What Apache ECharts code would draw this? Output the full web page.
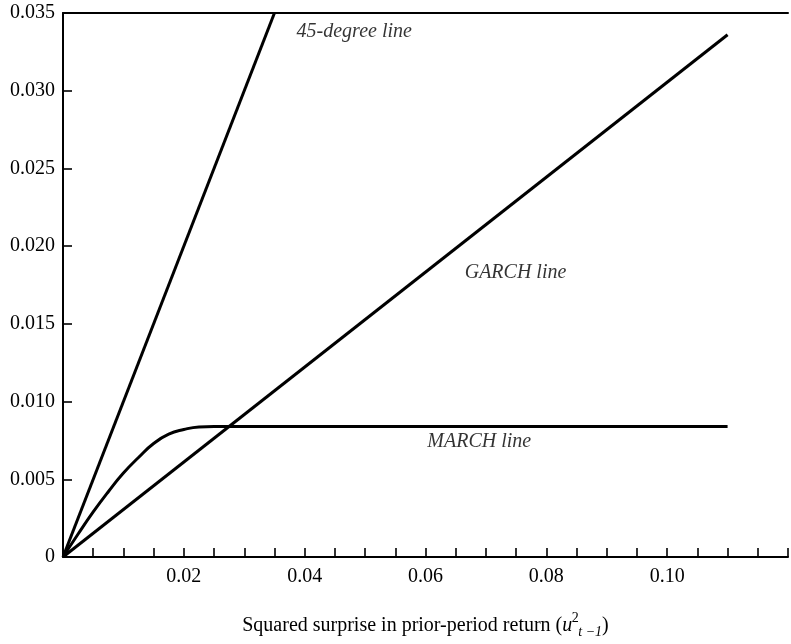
<!DOCTYPE html>
<html>
<head>
<meta charset="utf-8">
<script src="https://cdn.jsdelivr.net/npm/echarts@6/dist/echarts.min.js"></script>
<style>
html,body{margin:0;padding:0;background:#fff;overflow:hidden;}
#chart{width:791px;height:644px;}
</style>
</head>
<body>
<div id="chart"></div>
<script>
// Data
var line45 = [[0, 0], [0.035, 0.035]];
var garchLine = [[0, 0], [0.11, 0.0336]];
var marchLine = [
  [0, 0], [0.0025, 0.00148], [0.005, 0.0029], [0.0075, 0.0042], [0.01, 0.0054],
  [0.0125, 0.0064], [0.015, 0.0073], [0.0175, 0.0079], [0.02, 0.0082],
  [0.0225, 0.00837], [0.025, 0.0084], [0.0275, 0.0084], [0.03, 0.0084],
  [0.04, 0.0084], [0.06, 0.0084], [0.08, 0.0084], [0.11, 0.0084]
];
var xTickLabels = ['0.02', '0.04', '0.06', '0.08', '0.10'];
var yTickLabels = ['0', '0.005', '0.010', '0.015', '0.020', '0.025', '0.030', '0.035'];
var annotations = [
  { text: '45-degree line', x: 0.0482, y: 0.0338 },
  { text: 'GARCH line', x: 0.0749, y: 0.0183 },
  { text: 'MARCH line', x: 0.0689, y: 0.0074 }
];

var FONT = 'Liberation Serif';
var chart = echarts.init(document.getElementById('chart'));
var lineStyle = { color: '#000', width: 3 };

function lineSeries(data, smooth) {
  return {
    type: 'line', data: data, showSymbol: false, symbol: 'none',
    smooth: smooth ? 0.5 : false,
    lineStyle: lineStyle, silent: true, z: 3
  };
}

chart.setOption({
  animation: false,
  backgroundColor: '#fff',
  grid: { left: 63, right: -5, top: 13, bottom: 82 },
  xAxis: [{
    type: 'value', min: 0, max: 0.12, interval: 0.005,
    axisLine: { show: true, lineStyle: { color: '#000', width: 2 } },
    axisTick: { show: true, inside: true, length: 9, lineStyle: { color: '#000', width: 1.6 } },
    splitLine: { show: false },
    axisLabel: {
      margin: 10, color: '#000', fontFamily: FONT, fontSize: 20,
      formatter: function (v) {
        var s = v.toFixed(2);
        return xTickLabels.indexOf(s) >= 0 && Math.abs(v - parseFloat(s)) < 1e-9 ? s : '';
      }
    },
    name: 'Squared surprise in prior-period return ({it|u}{sup|2}{sub|t −1})',
    nameLocation: 'middle', nameGap: 54,
    nameTextStyle: {
      color: '#000', fontFamily: FONT, fontSize: 20,
      rich: {
        it: { fontFamily: FONT, fontStyle: 'italic', fontSize: 20, color: '#000' },
        sup: { fontFamily: FONT, fontSize: 14, color: '#000', width: 0, padding: [0, 0, 16, 3] },
        sub: { fontFamily: FONT, fontSize: 14, color: '#000', fontStyle: 'italic', padding: [12, 0, 0, 3] }
      }
    }
  }, {
    type: 'value', position: 'top', min: 0, max: 0.12,
    axisLine: { show: true, lineStyle: { color: '#000', width: 2 } },
    axisTick: { show: false }, axisLabel: { show: false }, splitLine: { show: false }
  }],
  yAxis: {
    type: 'value', min: 0, max: 0.035, interval: 0.005,
    axisLine: { show: true, lineStyle: { color: '#000', width: 2 } },
    axisTick: { show: true, inside: true, length: 9, lineStyle: { color: '#000', width: 1.6 } },
    splitLine: { show: false },
    axisLabel: {
      margin: 8, color: '#000', fontFamily: FONT, fontSize: 20,
      formatter: function (v) {
        var idx = Math.round(v / 0.005);
        return yTickLabels[idx] !== undefined ? yTickLabels[idx] : '';
      }
    }
  },
  series: [
    lineSeries(line45, false),
    lineSeries(garchLine, false),
    lineSeries(marchLine, true),
    {
      type: 'scatter', symbolSize: 0, silent: true, z: 4,
      data: annotations.map(function (a) { return { value: [a.x, a.y], name: a.text }; }),
      label: {
        show: true, position: 'inside', formatter: '{b}',
        fontFamily: FONT, fontStyle: 'italic', fontSize: 20, color: '#000'
      }
    }
  ]
});
</script>
</body>
</html>
